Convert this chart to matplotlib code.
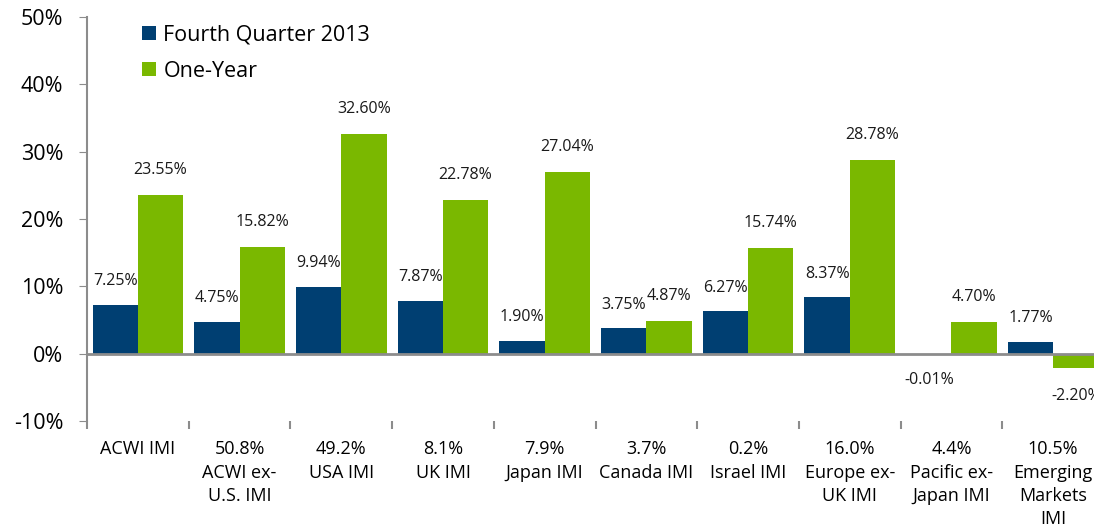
import matplotlib
matplotlib.use("Agg")
import matplotlib.pyplot as plt
import numpy as np
from matplotlib.ticker import FixedLocator, FuncFormatter

categories = ["ACWI IMI", "50.8%\nACWI ex-\nU.S. IMI", "49.2%\nUSA IMI", "8.1%\nUK IMI",
              "7.9%\nJapan IMI", "3.7%\nCanada IMI", "0.2%\nIsrael IMI",
              "16.0%\nEurope ex-\nUK IMI", "4.4%\nPacific ex-\nJapan IMI",
              "10.5%\nEmerging\nMarkets\nIMI"]
q4 = [7.25, 4.75, 9.94, 7.87, 1.90, 3.75, 6.27, 8.37, -0.01, 1.77]
one_year = [23.55, 15.82, 32.60, 22.78, 27.04, 4.87, 15.74, 28.78, 4.70, -2.20]
series_names = ["Fourth Quarter 2013", "One-Year"]
yticks = [-10, 0, 10, 20, 30, 40, 50]

dark = "#003F72"
green = "#7AB800"
axc = "#8C8C8C"
font = "Open Sans"

fig = plt.figure(figsize=(10.94, 5.32), dpi=100)
ax = fig.add_axes([87/1094, 111/532, 1017/1094, (421-17)/532])

x = np.arange(len(categories))
w = 0.445
ax.bar(x - w/2, q4, w, color=dark, label=series_names[0], zorder=2)
ax.bar(x + w/2, one_year, w, color=green, label=series_names[1], zorder=2)

for xi, v in zip(x - w/2, q4):
    off = 17 if v >= 0 else -19
    ax.annotate(f"{v:.2f}%", (xi, v), xytext=(0, off),
                textcoords="offset points", ha="center", va="center",
                fontsize=11.5, family=font, color="#1a1a1a")
for xi, v in zip(x + w/2, one_year):
    off = 18 if v >= 0 else -20
    ax.annotate(f"{v:.2f}%", (xi, v), xytext=(0, off),
                textcoords="offset points", ha="center", va="center",
                fontsize=11.5, family=font, color="#1a1a1a")

ax.set_xlim(-0.5, len(categories) - 0.5)
ax.set_ylim(-10, 50)
ax.set_yticks(yticks)
ax.yaxis.set_major_formatter(FuncFormatter(lambda v, p: f"{int(v)}%"))
for lab in ax.get_yticklabels():
    lab.set_family(font)
ax.tick_params(axis="y", direction="out", length=6, color=axc, labelsize=15.5, pad=11)

ax.set_xticks(x)
ax.set_xticklabels(categories, family=font, fontsize=13, linespacing=1.38, va="top")
ax.tick_params(axis="x", which="major", length=0, pad=14)
ax.xaxis.set_minor_locator(FixedLocator(np.arange(len(categories) + 1) - 0.5))
ax.tick_params(axis="x", which="minor", direction="out", length=6, color=axc, width=1.5)

for s in ["top", "right", "bottom"]:
    ax.spines[s].set_visible(False)
ax.spines["left"].set_color(axc)
ax.spines["left"].set_linewidth(1.5)
ax.spines["left"].set_bounds(-10, 50)
ax.axhline(0, color=axc, lw=2, zorder=3)

leg = ax.legend(loc="upper left", bbox_to_anchor=(0.035, 1.03), frameon=False,
                prop={"family": font, "size": 15.5}, handlelength=0.65, handleheight=0.65,
                handletextpad=0.35, labelspacing=0.72)

fig.text(0.0, -0.028, "Source: MSCI", family=font, fontsize=11, va="bottom")

fig.savefig("out.png", dpi=100)
